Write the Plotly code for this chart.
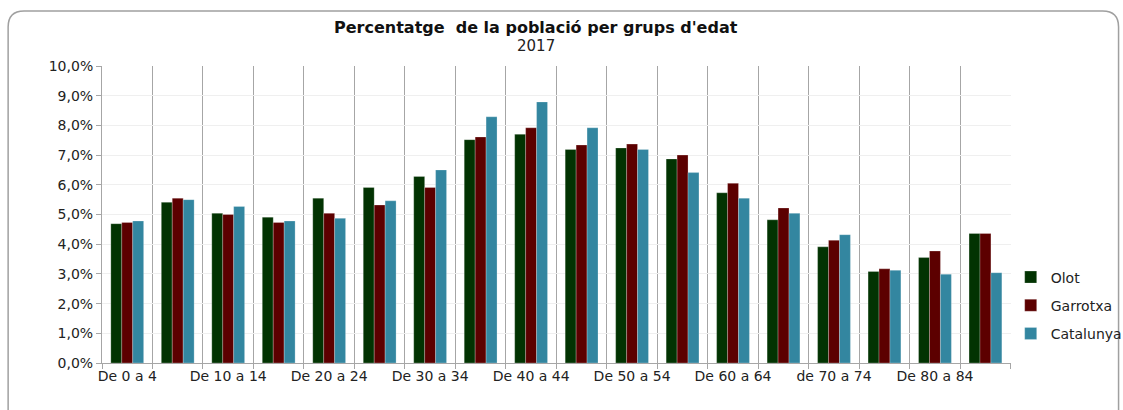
import plotly.graph_objects as go

grups = ['De 0 a 4', 'De 5 a 9', 'De 10 a 14', 'De 15 a 19', 'De 20 a 24',
         'De 25 a 29', 'De 30 a 34', 'De 35 a 39', 'De 40 a 44', 'De 45 a 49',
         'De 50 a 54', 'De 55 a 59', 'De 60 a 64', 'De 65 a 69', 'de 70 a 74',
         'De 75 a 79', 'De 80 a 84', 'De 85 i més']

olot = [4.69, 5.41, 5.04, 4.91, 5.55, 5.91, 6.28, 7.52, 7.70, 7.19,
        7.24, 6.87, 5.73, 4.82, 3.91, 3.08, 3.55, 4.36]
garrotxa = [4.73, 5.55, 5.00, 4.73, 5.04, 5.32, 5.91, 7.61, 7.92, 7.34,
            7.37, 7.00, 6.05, 5.22, 4.13, 3.17, 3.77, 4.36]
catalunya = [4.78, 5.50, 5.27, 4.78, 4.87, 5.46, 6.50, 8.29, 8.79, 7.92,
             7.19, 6.41, 5.55, 5.04, 4.32, 3.12, 2.99, 3.04]

# only every other group gets a label
etiquetes = [g if i % 2 == 0 else '' for i, g in enumerate(grups)]

font = 'DejaVu Sans, Verdana, sans-serif'
line = dict(color='rgba(255,255,255,0.4)', width=0.6)

trace0 = go.Bar(x=grups, y=olot, name='Olot', legendgroup='a',
                marker=dict(color='#023302', line=line))
trace1 = go.Bar(x=grups, y=garrotxa, name='Garrotxa', legendgroup='b',
                marker=dict(color='#5c0000', line=line))
trace2 = go.Bar(x=grups, y=catalunya, name='Catalunya', legendgroup='c',
                marker=dict(color='#3386a0', line=line))

# rounded frame round the chart, in paper units
x0, x1, y0, y1 = -0.1033, 1.1187, -0.2, 1.185
rx, ry = 0.0175, 0.054
frame = (f'M {x0},{y0} L {x0},{y1 - ry} Q {x0},{y1} {x0 + rx},{y1} '
         f'L {x1 - rx},{y1} Q {x1},{y1} {x1},{y1 - ry} L {x1},{y0}')

layout = go.Layout(
    width=1123, height=410,
    margin=dict(l=102, r=111, t=66, b=47),
    paper_bgcolor='white', plot_bgcolor='white',
    font=dict(family=font, size=14, color='#222'),
    separators=', ',
    barmode='group', bargap=0.35, bargroupgap=0,
    showlegend=True,
    legend=dict(xref='container', yref='container', x=0.9, y=0.255,
                xanchor='left', yanchor='middle', bgcolor='rgba(0,0,0,0)',
                font=dict(size=14, color='#222'), traceorder='grouped',
                tracegroupgap=7, itemwidth=30),
    xaxis=dict(type='category', tickson='boundaries', tickvals=grups, ticktext=etiquetes,
               showgrid=True, gridcolor='#a6a6a6', gridwidth=1,
               ticks='outside', ticklen=5, tickcolor='#a6a6a6', automargin=False,
               showline=True, linecolor='#a6a6a6', linewidth=1, tickangle=0),
    yaxis=dict(range=[0, 10], dtick=1, tickformat='.1f', ticksuffix='%',
               showgrid=True, gridcolor='#efefef', zeroline=False, automargin=False,
               ticks='outside', ticklen=5, tickcolor='#a6a6a6',
               showline=True, linecolor='#a6a6a6', linewidth=1),
    annotations=[
        dict(text="<b>Percentatge&nbsp; de la població per grups d'edat</b>",
             x=0.478, y=1.131, xref='paper', yref='paper', yanchor='middle',
             showarrow=False, font=dict(size=16, color='#111')),
        dict(text='2017', x=0.478, y=1.067, xref='paper', yref='paper', yanchor='middle',
             showarrow=False, font=dict(size=15, color='#222')),
    ],
    shapes=[dict(type='path', path=frame, xref='paper', yref='paper',
                 line=dict(color='#a0a0a0', width=1.5), layer='below')],
)

fig = go.Figure(data=[trace0, trace1, trace2], layout=layout)
# drop the page's default body margin so the figure sits at the top-left corner
fig.write_html('out.html', config={'displayModeBar': False},
               post_script="document.body.style.margin='0';")
